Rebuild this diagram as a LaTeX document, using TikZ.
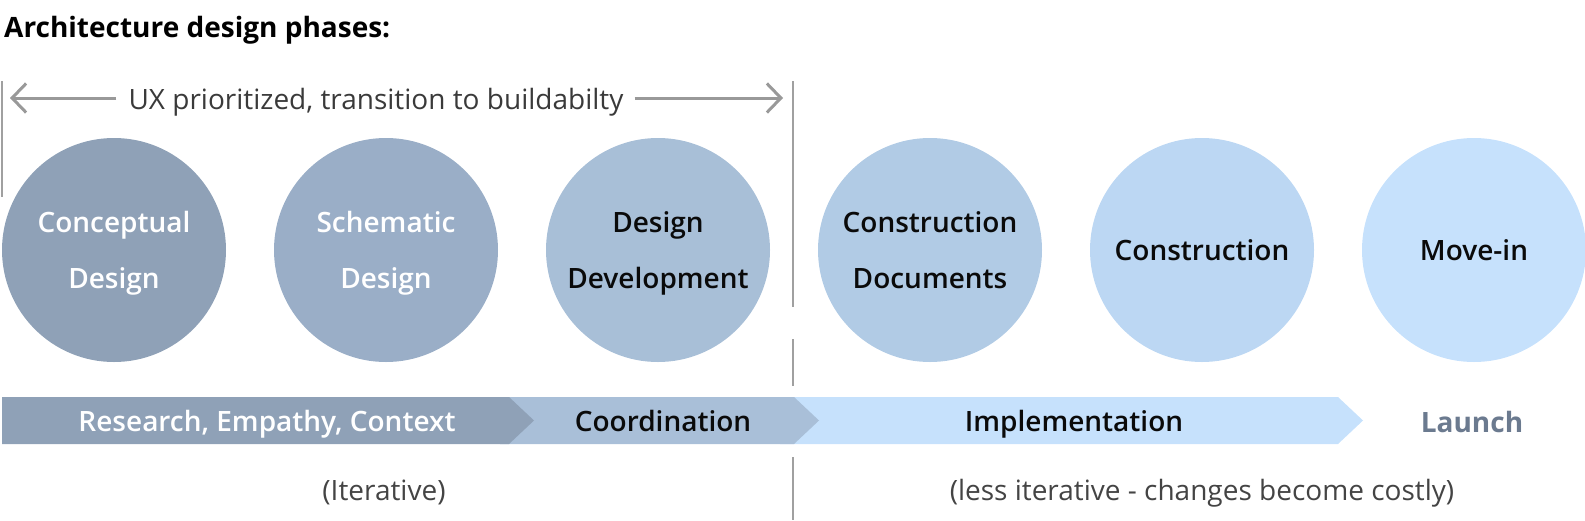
\documentclass[tikz,border=0pt]{standalone}
\usepackage{fontspec}
\setmainfont{Open Sans}
\IfFontExistsTF{Open Sans SemiBold}{\newfontfamily\semi{Open Sans SemiBold}}{%
 \IfFontExistsTF{Open Sans Semibold}{\newfontfamily\semi{Open Sans Semibold}}{%
  \IfFontExistsTF{OpenSans-SemiBold}{\newfontfamily\semi{OpenSans-SemiBold}}{%
   \newfontfamily\semi[FakeBold=2.4,LetterSpace=2]{Open Sans}}}}
\usetikzlibrary{arrows.meta}
\definecolor{cA}{HTML}{8FA1B7}
\definecolor{cB}{HTML}{9AAEC7}
\definecolor{cC}{HTML}{A8BFD7}
\definecolor{cD}{HTML}{B1CBE5}
\definecolor{cE}{HTML}{BCD7F3}
\definecolor{cF}{HTML}{C6E1FC}
\definecolor{bandA}{HTML}{8FA1B7}
\definecolor{bandB}{HTML}{A9BFD8}
\definecolor{bandC}{HTML}{C6E1FC}
\definecolor{launchcol}{HTML}{6B7A8F}
\definecolor{txtgray}{HTML}{444444}
\definecolor{uxgray}{HTML}{3A3A3A}
\definecolor{linegray}{HTML}{A0A0A0}
\definecolor{arrowgray}{HTML}{999999}
\definecolor{darktxt}{HTML}{0A0A0A}
\begin{document}
\begin{tikzpicture}[x=1pt,y=-1pt,
  ring/.style={circle, minimum size=224pt, inner sep=0pt, draw=none},
  ctext/.style={anchor=base, inner sep=0pt, font=\semi\fontsize{28}{34}\selectfont},
  ntext/.style={anchor=base, inner sep=0pt, font=\fontsize{28}{34}\selectfont, text=txtgray},
  divider/.style={draw=linegray, line width=2pt},
  span/.style={draw=arrowgray, line width=3pt, -{Straight Barb[length=14pt,width=29pt]}},
]
\useasboundingbox (0,0) rectangle (1585,520);

% title
\node[anchor=base west, inner sep=0pt, font=\bfseries\fontsize{28}{34}\selectfont] (title) at (4,37.4) {Architecture design phases:};

% dividers
\coordinate (dl1) at (2,81);
\coordinate (dl2) at (2,197);
\draw[divider] (dl1) -- (dl2);
\coordinate (dr1) at (793,81);
\coordinate (dr2) at (793,307);
\coordinate (dr3) at (793,339);
\coordinate (dr4) at (793,386);
\coordinate (dr5) at (793,457);
\coordinate (dr6) at (793,520);
\draw[divider] (dr1) -- (dr2);
\draw[divider] (dr3) -- (dr4);
\draw[divider] (dr5) -- (dr6);

% span arrow
\node[ntext, text=uxgray] (ux) at (376,109) {UX prioritized, transition to buildabilty};
\coordinate (ul) at (10,98);
\coordinate (ur) at (783,98);
\draw[span] ([xshift=-12pt]ux.west |- ul) -- (ul);
\draw[span] ([xshift=11pt]ux.east |- ur) -- (ur);

% circles
\node[ring, fill=cA] (c1) at (114,250) {};
\node[ring, fill=cB] (c2) at (386,250) {};
\node[ring, fill=cC] (c3) at (658,250) {};
\node[ring, fill=cD] (c4) at (930,250) {};
\node[ring, fill=cE] (c5) at (1202,250) {};
\node[ring, fill=cF] (c6) at (1474,250) {};

\node[ctext, text=white] (t1a) at ([yshift=17.5pt]c1.center) {Conceptual};
\node[ctext, text=white] (t1b) at ([yshift=-38pt]c1.center) {Design};
\node[ctext, text=white] (t2a) at ([yshift=17.5pt]c2.center) {Schematic};
\node[ctext, text=white] (t2b) at ([yshift=-38pt]c2.center) {Design};
\node[ctext, text=darktxt] (t3a) at ([yshift=17.5pt]c3.center) {Design};
\node[ctext, text=darktxt] (t3b) at ([yshift=-38pt]c3.center) {Development};
\node[ctext, text=darktxt] (t4a) at ([yshift=17.5pt]c4.center) {Construction};
\node[ctext, text=darktxt] (t4b) at ([yshift=-38pt]c4.center) {Documents};
\node[ctext, text=darktxt] (t5) at ([yshift=-10.5pt]c5.center) {Construction};
\node[ctext, text=darktxt] (t6) at ([yshift=-10.5pt]c6.center) {Move-in};

% bands
\fill[bandC] (780,397) -- (1338,397) -- (1363,420.5) -- (1338,444) -- (780,444) -- cycle;
\fill[bandB] (500,397) -- (794,397) -- (819,420.5) -- (794,444) -- (500,444) -- cycle;
\fill[bandA] (2,397) -- (509,397) -- (534,420.5) -- (509,444) -- (2,444) -- cycle;

\node[ctext, text=white] (b1) at (267,431.5) {Research, Empathy, Context};
\node[ctext, text=darktxt] (b2) at (663,431.5) {Coordination};
\node[ctext, text=darktxt] (b3) at (1074,431.5) {Implementation};
\node[anchor=base, inner sep=0pt, font=\bfseries\fontsize{28}{34}\selectfont, text=launchcol] (b4) at (1472,432) {Launch};

% bottom notes
\node[ntext] (n1) at (384,500) {(Iterative)};
\node[ntext] (n2) at (1202,500) {(less iterative - changes become costly)};
\end{tikzpicture}
\end{document}
